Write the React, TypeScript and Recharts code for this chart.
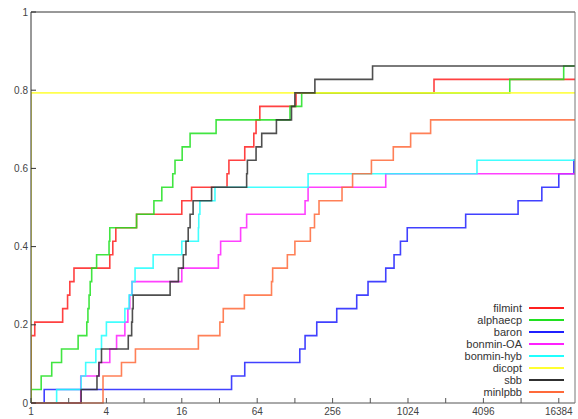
import { LineChart, Line, XAxis, YAxis } from 'recharts'

// performance profile: x = log2(ratio to best), k = number of instances solved (of 29)
const TOTAL = 29
const X_MAX = 14.43

const SOLVERS = ['filmint', 'alphaecp', 'baron', 'bonmin-OA', 'bonmin-hyb', 'dicopt', 'sbb', 'minlpbb']
const COLORS = ['#ff2020', '#20e020', '#2020ff', '#ff20ff', '#20ffff', '#ffff30', '#303030', '#ff6a3a']

const filmint: [number, number][] = [
  [0, 0], [0, 5], [0.1, 6], [0.84, 7], [0.97, 8], [1.03, 9], [1.14, 10], [2.09, 11], [2.17, 12],
  [2.25, 13], [2.8, 14], [4.0, 15], [4.26, 16], [5.2, 17], [5.25, 18], [5.67, 19], [5.91, 20],
  [5.97, 21], [6.07, 22], [7.03, 23], [10.69, 24],
]
const alphaecp: [number, number][] = [
  [0, 0], [0, 1], [0.27, 2], [0.55, 3], [0.81, 4], [1.25, 5], [1.48, 6], [1.51, 7], [1.54, 8],
  [1.57, 9], [1.61, 10], [1.74, 11], [2.07, 12], [2.09, 13], [2.8, 14], [3.26, 15], [3.47, 16],
  [3.76, 17], [3.82, 18], [4.01, 19], [4.22, 20], [4.91, 21], [6.87, 22], [7.18, 23], [12.7, 24],
  [14.13, 25],
]
const baron: [number, number][] = [
  [0, 0], [0.35, 1], [5.32, 2], [5.67, 3], [7.13, 4], [7.27, 5], [7.58, 6], [8.11, 7], [8.64, 8],
  [8.94, 9], [9.41, 10], [9.63, 11], [9.8, 12], [9.98, 13], [11.53, 14], [12.92, 15], [13.55, 16],
  [14.0, 17], [14.4, 18],
]
const bonminOA: [number, number][] = [
  [0, 0], [1.32, 2], [1.81, 3], [2.09, 4], [2.27, 5], [2.49, 6], [2.57, 7], [2.62, 8], [2.68, 9],
  [4.0, 10], [4.97, 11], [5.03, 12], [5.56, 13], [5.72, 14], [7.27, 15], [7.35, 16], [9.41, 17],
]
const bonminHyb: [number, number][] = [
  [0, 0], [0.68, 1], [1.33, 2], [1.45, 3], [1.72, 4], [1.87, 5], [2.0, 6], [2.49, 7], [2.6, 8],
  [2.68, 9], [2.76, 10], [3.24, 11], [4.0, 12], [4.44, 13], [4.45, 14], [4.48, 15], [4.88, 16],
  [7.35, 17], [11.83, 18],
]
const dicopt: [number, number][] = [[0, 0], [0, 23]]
const sbb: [number, number][] = [
  [0, 0], [1.33, 1], [1.75, 2], [1.8, 3], [1.87, 4], [2.58, 5], [2.67, 6], [2.69, 7], [2.71, 8],
  [3.69, 9], [3.91, 10], [4.04, 11], [4.11, 12], [4.17, 13], [4.22, 14], [4.3, 15], [4.79, 16],
  [5.72, 17], [5.74, 18], [5.97, 19], [6.12, 20], [6.51, 21], [6.91, 22], [7.0, 23], [7.53, 24],
  [9.06, 25],
]
const minlpbb: [number, number][] = [
  [0, 0], [1.91, 2], [2.4, 3], [2.77, 4], [4.44, 5], [5.01, 6], [5.1, 7], [5.66, 8], [6.38, 9],
  [6.41, 10], [6.8, 11], [7.0, 12], [7.41, 13], [7.52, 14], [7.64, 15], [8.25, 16], [8.53, 17],
  [9.03, 18], [9.61, 19], [10.07, 20], [10.6, 21],
]

const PROFILES = [filmint, alphaecp, baron, bonminOA, bonminHyb, dicopt, sbb, minlpbb]

const X_TICKS = [0, 1, 2, 3, 4, 5, 6, 7, 8, 9, 10, 11, 12, 13, 14]
const Y_TICKS = [0, 0.2, 0.4, 0.6, 0.8, 1]

const FONT = 'Liberation Sans, Arial, sans-serif'
const tickStyle = { fontSize: 10, fontFamily: FONT, fill: '#444' }

function toSeries(pts: [number, number][]) {
  const rows = pts.map(([x, k]) => ({ x, y: k / TOTAL }))
  rows.push({ x: X_MAX, y: rows[rows.length - 1].y })
  return rows
}

function LegendBox() {
  return (
    <div style={{ position: 'absolute', right: 14, top: 302, fontFamily: FONT, fontSize: 11, color: '#333' }}>
      {SOLVERS.map((name, i) => (
        <div key={name} style={{ display: 'flex', alignItems: 'center', justifyContent: 'flex-end', height: 12 }}>
          <span style={{ marginRight: 7 }}>{name}</span>
          <span style={{ display: 'inline-block', width: 35, height: 2, background: COLORS[i] }} />
        </div>
      ))}
    </div>
  )
}

export default function App() {
  return (
    <div style={{ position: 'absolute', left: 0, top: 0, width: 578, height: 419, background: '#fff' }}>
      <LineChart width={578} height={419} margin={{ top: 11, right: 0, bottom: 0, left: 0 }}>
        <XAxis
          xAxisId="bottom"
          dataKey="x"
          type="number"
          domain={[0, X_MAX]}
          ticks={X_TICKS}
          allowDataOverflow
          height={16}
          tickSize={-5}
          tickMargin={10}
          tick={tickStyle}
          stroke="#555"
          tickFormatter={(t: number) => (t % 2 === 0 ? String(2 ** t) : '')}
        />
        <XAxis
          xAxisId="top"
          orientation="top"
          dataKey="x"
          type="number"
          domain={[0, X_MAX]}
          ticks={X_TICKS}
          height={1}
          tickSize={-5}
          tick={false}
          stroke="#333"
        />
        <YAxis
          yAxisId="left"
          domain={[0, 1]}
          ticks={Y_TICKS}
          width={31}
          tickSize={-5}
          tickMargin={8}
          tick={tickStyle}
          stroke="#333"
          tickFormatter={(v: number) => String(v)}
        />
        <YAxis
          yAxisId="right"
          orientation="right"
          domain={[0, 1]}
          ticks={Y_TICKS}
          width={3}
          tickSize={-5}
          tick={false}
          stroke="#777"
        />
        {PROFILES.map((pts, i) => (
          <Line
            key={SOLVERS[i]}
            xAxisId="bottom"
            yAxisId="left"
            data={toSeries(pts)}
            dataKey="y"
            name={SOLVERS[i]}
            type="stepAfter"
            stroke={COLORS[i]}
            strokeWidth={1.6}
            strokeOpacity={0.85}
            dot={false}
            isAnimationActive={false}
          />
        ))}
      </LineChart>
      <LegendBox />
    </div>
  )
}
